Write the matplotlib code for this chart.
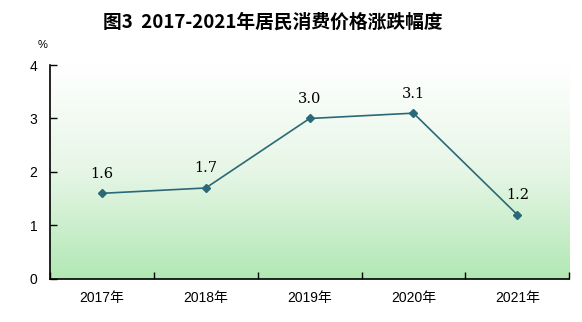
import numpy as np
import matplotlib.pyplot as plt
from matplotlib.colors import LinearSegmentedColormap

plt.rcParams['font.family'] = ['Liberation Sans', 'Noto Sans CJK SC', 'DejaVu Sans']

years = ["2017年", "2018年", "2019年", "2020年", "2021年"]
cpi_change = [1.6, 1.7, 3.0, 3.1, 1.2]
value_labels = ["1.6", "1.7", "3.0", "3.1", "1.2"]

fig = plt.figure(figsize=(5.82, 3.22), dpi=100)
ax = fig.add_axes([0.086, 0.134, 0.892, 0.664])

# green-to-white background fill
cmap = LinearSegmentedColormap.from_list("bg", ["#ffffff", "#e6f6e6", "#b2e8b4"])
grad = np.linspace(0, 1, 256).reshape(-1, 1)
ax.imshow(grad, cmap=cmap, aspect="auto", extent=[0, 1, 0, 1],
          transform=ax.transAxes, zorder=0)

x = np.arange(len(years))
line_color = "#2b6878"
ax.plot(x, cpi_change, color=line_color, linewidth=1.2, marker="D",
        markersize=4.5, zorder=3)

for xi, v, s in zip(x, cpi_change, value_labels):
    ax.annotate(s, (xi, v), xytext=(0, 9), textcoords="offset points",
                ha="center", va="bottom", fontsize=10.5,
                family=["DejaVu Serif"])

ax.set_xlim(-0.5, len(years) - 0.5)
ax.set_ylim(0, 4)
ax.set_yticks([0, 1, 2, 3, 4])
ax.set_xticks(np.arange(len(years) + 1) - 0.5)
ax.set_xticklabels([])
ax.set_xticks(x, minor=True)
ax.set_xticklabels(years, minor=True)
ax.tick_params(axis="x", which="minor", length=0, labelsize=10, pad=9)
ax.tick_params(axis="x", which="major", direction="in", length=5, width=1)
ax.tick_params(axis="y", direction="in", length=5, width=1, labelsize=10, pad=9)

for side in ["top", "right"]:
    ax.spines[side].set_visible(False)
for side in ["left", "bottom"]:
    ax.spines[side].set_linewidth(1.2)

ax.text(-0.015, 1.07, "%", transform=ax.transAxes, fontsize=8,
        ha="center", va="bottom")

fig.text(0.468, 0.93, "图3  2017-2021年居民消费价格涨跌幅度", ha="center",
         va="center", fontsize=13.5, fontweight="bold",
         family=["Noto Sans CJK SC", "DejaVu Sans"])

fig.savefig("out.png", dpi=100)
